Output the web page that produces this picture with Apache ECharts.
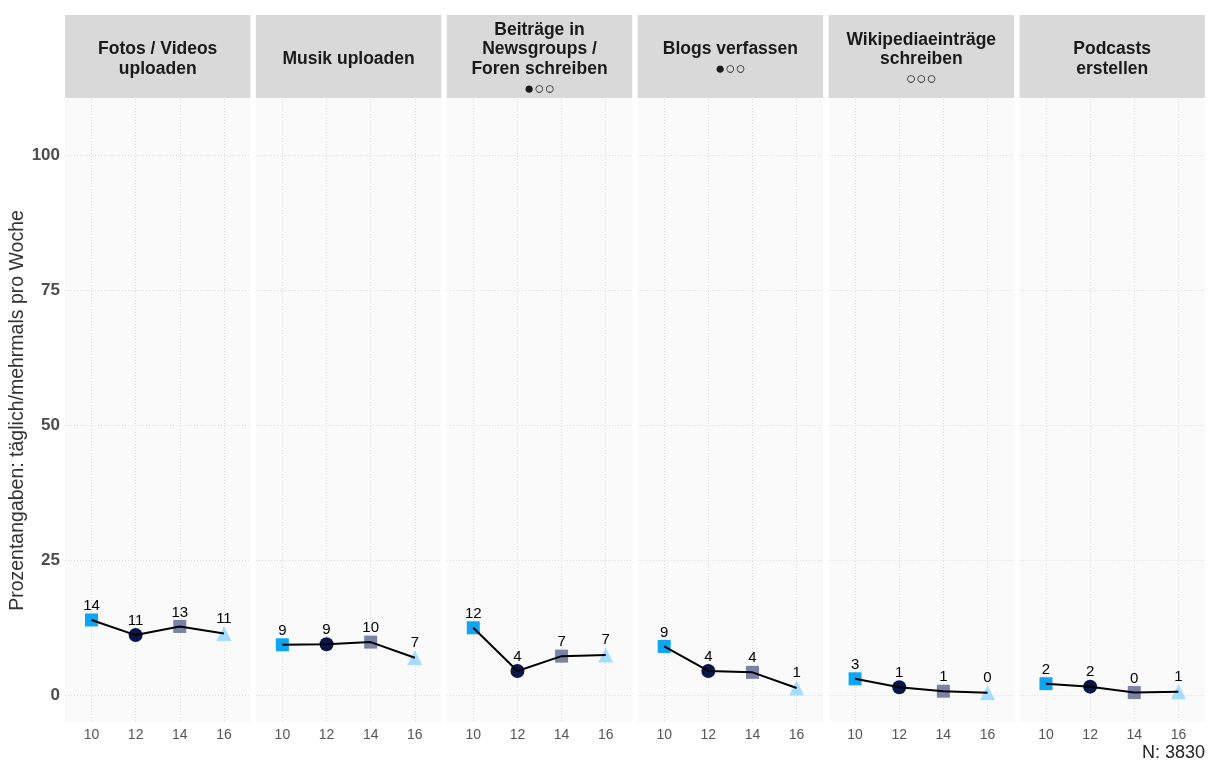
<!DOCTYPE html>
<html>
<head>
<meta charset="utf-8">
<script src="https://cdn.jsdelivr.net/npm/echarts@6/dist/echarts.min.js"></script>
<style>
  html, body { margin: 0; padding: 0; background: #fff; }
  #main { width: 1215px; height: 760px; }
</style>
</head>
<body>
<div id="main"></div>
<script>
// facet titles and the little "quality" dots under some of them
const panelTitles = ['Fotos / Videos\nuploaden', 'Musik uploaden', 'Beiträge in\nNewsgroups /\nForen schreiben',
  'Blogs verfassen', 'Wikipediaeinträge\nschreiben', 'Podcasts\nerstellen'];
const panelDots = ['', '', '●○○', '●○○', '○○○', ''];

const years = [10, 12, 14, 16];
const yTicks = [0, 25, 50, 75, 100];

// percent values per facet (2010, 2012, 2014, 2016)
const fotos = [13.9, 11.1, 12.7, 11.4];
const musik = [9.3, 9.4, 9.8, 6.9];
const foren = [12.45, 4.45, 7.2, 7.4];
const blogs = [9.0, 4.45, 4.2, 1.3];
const wiki = [3.0, 1.45, 0.7, 0.4];
const podcasts = [2.1, 1.55, 0.45, 0.6];
const allValues = [fotos, musik, foren, blogs, wiki, podcasts];

const symbols = ['rect', 'circle', 'rect', 'triangle'];
const symbolColors = ['#0ea5f2', '#09164a', '#7a82a6', '#a5ddfd'];
const symbolSizes = [13, 14, 13, 15];

const chart = echarts.init(document.getElementById('main'));
const font = '"Liberation Sans", Arial, sans-serif';

const panelLeft = 65, panelW = 185.4, panelGap = 5.5, panelTop = 99, panelH = 623;

const grids = [], xAxes = [], yAxes = [], series = [], graphics = [];

allValues.forEach(function (vals, i) {
  const left = panelLeft + i * (panelW + panelGap);
  grids.push({
    left: left, top: panelTop, width: panelW, height: panelH,
    show: true, backgroundColor: '#fafafa', borderWidth: 0
  });
  xAxes.push({
    type: 'value', gridIndex: i, min: 8.8, max: 17.2,
    axisLine: { show: false },
    axisTick: { show: false, customValues: years },
    axisLabel: { customValues: years, color: '#555', fontSize: 14, fontFamily: font, margin: 6 },
    splitLine: { show: true, lineStyle: { color: '#dcdcdc', type: [1, 2], width: 1 } }
  });
  yAxes.push({
    type: 'value', gridIndex: i, min: -5, max: 110.4,
    name: i === 0 ? 'Prozentangaben: täglich/mehrmals pro Woche' : '',
    nameLocation: 'middle', nameGap: 33,
    nameTextStyle: { color: '#333', fontSize: 19.5, fontFamily: font },
    axisLine: { show: false },
    axisTick: { show: false, customValues: yTicks },
    axisLabel: { show: i === 0, customValues: yTicks, color: '#4d4d4d', fontSize: 17,
      fontWeight: 'bold', fontFamily: font, margin: 5 },
    splitLine: { show: true, lineStyle: { color: '#dcdcdc', type: [1, 2], width: 1 } }
  });

  series.push({
    type: 'scatter', xAxisIndex: i, yAxisIndex: i, z: 2, clip: false,
    data: vals.map(function (v, k) {
      return {
        value: [years[k], v],
        symbol: symbols[k],
        symbolSize: symbolSizes[k],
        itemStyle: { color: symbolColors[k], opacity: 1 }
      };
    }),
    label: {
      show: true, position: 'top', distance: 0,
      color: '#000', fontSize: 15, fontFamily: font,
      formatter: function (p) { return Math.round(p.value[1]); }
    }
  });
  series.push({
    type: 'line', xAxisIndex: i, yAxisIndex: i, z: 3,
    showSymbol: false, silent: true,
    lineStyle: { color: '#000', width: 2 },
    data: vals.map(function (v, k) { return [years[k], v]; })
  });

  // facet strip
  let txt = panelTitles[i].split('\n').map(function (s) { return '{t|' + s + '}'; }).join('\n');
  if (panelDots[i]) txt += '\n{d|' + panelDots[i] + '}';
  graphics.push({
    type: 'rect', left: left, top: 15,
    shape: { width: panelW, height: 83 },
    style: { fill: '#d9d9d9' }
  });
  graphics.push({
    type: 'text', x: left + panelW / 2, y: 59.5,
    style: {
      text: txt, align: 'center', verticalAlign: 'middle',
      rich: {
        t: { fontSize: 17.5, fontWeight: 'bold', fontFamily: font, fill: '#1a1a1a', lineHeight: 19.7, align: 'center' },
        d: { fontSize: 17, fontFamily: font, fill: '#1a1a1a', lineHeight: 19.7, align: 'center' }
      }
    }
  });
});

graphics.push({
  type: 'text', right: 10, top: 744,
  style: { text: 'N: 3830', fontSize: 18, fontFamily: font, fill: '#222' }
});

chart.setOption({
  backgroundColor: '#fff',
  animation: false,
  grid: grids,
  xAxis: xAxes,
  yAxis: yAxes,
  series: series,
  graphic: graphics
});
</script>
</body>
</html>
